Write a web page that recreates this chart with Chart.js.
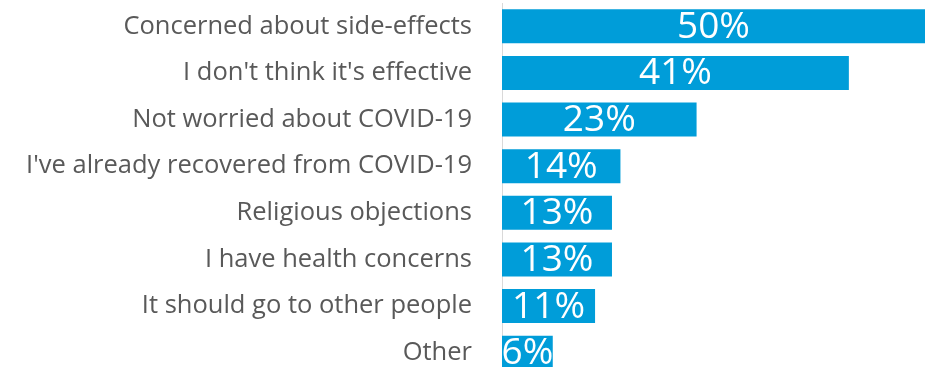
<!DOCTYPE html>
<html>
<head>
<meta charset="utf-8">
<script src="https://cdn.jsdelivr.net/npm/chart.js@4"></script>
<style>
  html, body { margin: 0; padding: 0; background: #fff; overflow: hidden; }
  #wrap { width: 925px; height: 367px; overflow: hidden; }
</style>
</head>
<body>
<div id="wrap"><canvas id="chart" width="925" height="376"></canvas></div>
<script>
// Reasons for not getting the vaccine (% of respondents)
const reasons = [
    'Concerned about side-effects',
    "I don't think it's effective",
    'Not worried about COVID-19',
    "I've already recovered from COVID-19",
    'Religious objections',
    'I have health concerns',
    'It should go to other people',
    'Other'
];
const shares = [50, 41, 23, 14, 13, 13, 11, 6];

const barColor = '#009DD9';
const labelColor = '#595959';

// white percentage text centred inside each bar
const barValueLabels = {
    id: 'barValueLabels',
    afterDatasetsDraw(chart) {
        const { ctx } = chart;
        const meta = chart.getDatasetMeta(0);
        ctx.save();
        ctx.fillStyle = '#fff';
        ctx.font = '37px "Open Sans"';
        ctx.textAlign = 'center';
        ctx.textBaseline = 'middle';
        meta.data.forEach((bar, i) => {
            const cx = (bar.base + bar.x) / 2;
            ctx.fillText(shares[i] + '%', cx, bar.y + 1);
        });
        ctx.restore();
    }
};

new Chart(document.getElementById('chart'), {
    type: 'bar',
    data: {
        labels: reasons,
        datasets: [{
            data: shares,
            backgroundColor: barColor,
            barPercentage: 0.73,
            categoryPercentage: 1
        }]
    },
    options: {
        indexAxis: 'y',
        responsive: false,
        animation: false,
        devicePixelRatio: 1,
        layout: { padding: { top: 3, right: 0, bottom: 0, left: 0 } },
        plugins: {
            legend: { display: false },
            tooltip: { enabled: false }
        },
        scales: {
            x: { display: false, min: 0, max: 50 },
            y: {
                // fixed label column; drop the extra top/bottom padding the tick padding adds
                afterFit(scale) {
                    scale.width = 502;
                    scale.paddingTop = 0;
                    scale.paddingBottom = 0;
                },
                grid: { display: false, drawTicks: false },
                border: { display: true, color: '#D9D9D9', width: 1 },
                ticks: {
                    color: labelColor,
                    padding: 30,
                    font: { family: 'Open Sans', size: 25.5 }
                }
            }
        }
    },
    plugins: [barValueLabels]
});
</script>
</body>
</html>
